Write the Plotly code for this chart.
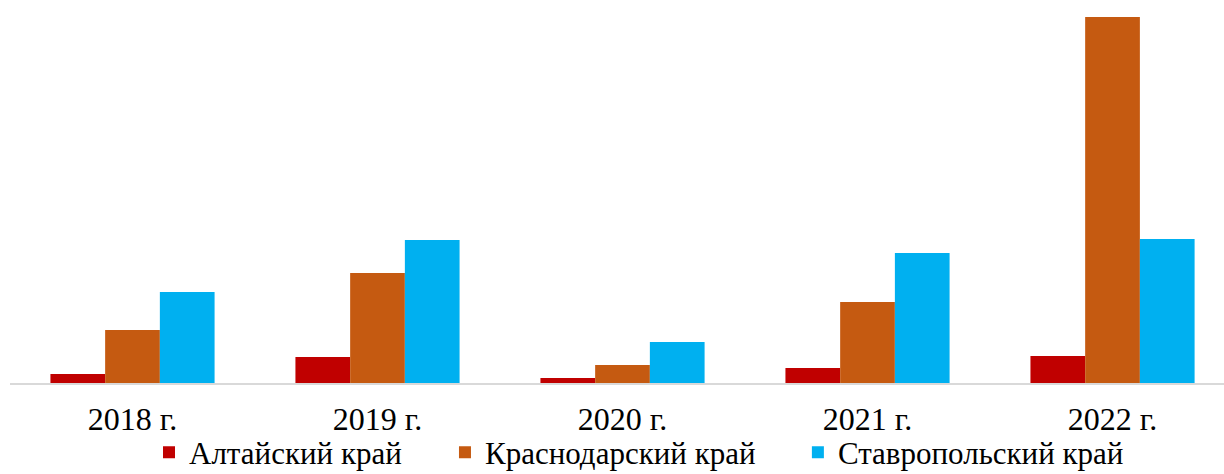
import plotly.graph_objects as go

years = ["2018 г.", "2019 г.", "2020 г.", "2021 г.", "2022 г."]
altai = [9, 26, 5, 15, 27]
krasnodar = [53, 110, 18, 81, 366]
stavropol = [91, 143, 41, 130, 144]

series = [
    ("Алтайский край", altai, "#C00000", "legend", 0.1145),
    ("Краснодарский край", krasnodar, "#C55A11", "legend2", 0.3583),
    ("Ставропольский край", stavropol, "#00B0F0", "legend3", 0.649),
]

font_family = "Liberation Serif"
fig = go.Figure()
legends = {}
for name, vals, color, lg, lx in series:
    fig.add_trace(go.Bar(x=years, y=vals, name=name, marker_color=color,
                         marker_line_width=0, legend=lg))
    legends[lg] = dict(orientation="h", x=lx, xanchor="left", y=-0.19,
                       yanchor="middle", bgcolor="rgba(0,0,0,0)",
                       font=dict(size=31, family=font_family))

fig.update_layout(
    width=1224, height=474,
    margin=dict(l=10, r=0, t=17, b=91, autoexpand=False),
    paper_bgcolor="white", plot_bgcolor="white",
    barmode="group", bargap=0.33, bargroupgap=0,
    font=dict(family=font_family, size=32, color="#000000"),
    showlegend=True,
    **legends,
)
fig.update_xaxes(type="category", range=[-0.5, 4.455], showline=True,
                 linecolor="#d9d9d9", linewidth=2, showgrid=False,
                 ticks="", ticklabelstandoff=7,
                 tickfont=dict(size=32, family=font_family))
fig.update_yaxes(range=[0, 366], visible=False, showgrid=False, zeroline=False)

fig.write_html("out.html")
